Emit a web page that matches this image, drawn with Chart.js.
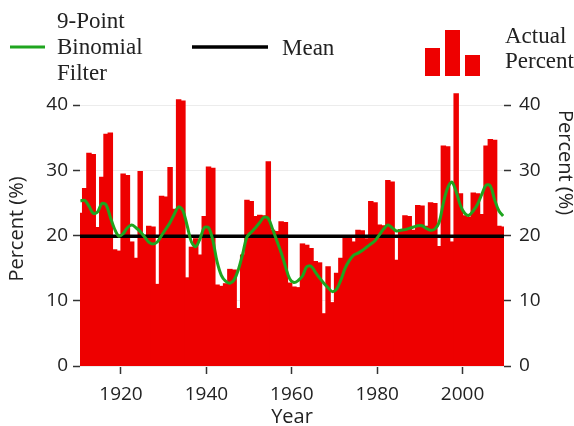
<!DOCTYPE html>
<html><head><meta charset="utf-8">
<script src="https://cdn.jsdelivr.net/npm/chart.js@4.4.0/dist/chart.umd.min.js"></script>
<style>html,body{margin:0;padding:0;background:#fff;}#wrap{position:relative;width:574px;height:426px;}</style>
</head><body><div id="wrap"><canvas id="c" width="574" height="426"></canvas></div>
<script>
const years = [1910,1911,1912,1913,1914,1915,1916,1917,1918,1919,
1920,1921,1922,1923,1924,1925,1926,1927,1928,1929,
1930,1931,1932,1933,1934,1935,1936,1937,1938,1939,
1940,1941,1942,1943,1944,1945,1946,1947,1948,1949,
1950,1951,1952,1953,1954,1955,1956,1957,1958,1959,
1960,1961,1962,1963,1964,1965,1966,1967,1968,1969,
1970,1971,1972,1973,1974,1975,1976,1977,1978,1979,
1980,1981,1982,1983,1984,1985,1986,1987,1988,1989,
1990,1991,1992,1993,1994,1995,1996,1997,1998,1999,
2000,2001,2002,2003,2004,2005,2006,2007,2008,2009];

const actualPercent = [23.4,27.2,32.6,32.4,21.2,28.9,35.5,35.7,17.8,17.6,
29.4,29.2,19.0,16.5,29.8,19.6,21.4,21.3,12.5,26.0,
25.9,30.4,24.0,40.8,40.6,13.5,18.2,19.5,17.0,22.9,
30.5,30.3,12.4,12.2,12.6,14.8,14.7,8.8,17.0,25.4,
25.2,22.9,23.1,23.0,31.3,20.8,20.6,22.1,22.0,12.7,
12.1,12.0,18.7,18.5,18.0,16.0,15.8,8.0,15.2,9.7,
14.2,16.5,19.8,19.7,19.0,20.8,20.7,19.5,25.2,25.0,
21.6,21.5,28.4,28.2,16.2,20.9,23.0,22.9,20.8,24.6,
24.5,21.4,25.0,24.9,18.3,33.7,33.6,19.0,41.7,26.4,
23.0,22.8,26.5,26.4,23.2,33.7,34.7,34.6,21.4,21.3];

const binomialFilter = [25.3,25.4,24.5,23.4,23.6,24.9,24.7,22.8,21.0,19.9,
20.3,21.2,21.6,21.2,20.6,19.8,19.0,18.7,19.0,20.0,
21.0,22.0,23.3,24.4,23.8,21.5,19.0,18.3,19.5,21.2,
21.2,19.3,16.0,13.9,13.0,12.7,13.2,14.8,17.2,19.8,
20.5,21.2,22.0,22.8,22.6,21.0,19.2,17.4,15.3,13.4,
12.8,13.1,13.8,15.2,15.3,14.4,13.5,12.7,12.0,11.4,
11.8,13.2,15.0,16.2,17.0,17.3,17.7,18.2,18.7,19.2,
20.1,21.0,21.6,21.2,20.7,20.8,20.9,21.1,21.3,21.5,
21.5,21.1,20.8,21.0,22.0,25.0,27.3,28.2,26.7,24.6,
23.4,23.1,23.8,24.8,26.3,27.7,27.6,25.5,23.8,23.0];

const meanPercent = 19.9;
const xTickLabels = [1920, 1940, 1960, 1980, 2000];
const yTickValues = [0, 10, 20, 30, 40];

const RED = '#ee0000', GREEN = '#1fa51f', INK = '#222222';
Chart.defaults.font.family = '"Open Sans", sans-serif';
Chart.defaults.color = INK;

const drawExtras = {
  id: 'drawExtras',
  afterDraw(chart) {
    const ctx = chart.ctx;
    ctx.save();
    ctx.lineCap = 'butt';
    ctx.strokeStyle = GREEN; ctx.lineWidth = 3;
    ctx.beginPath(); ctx.moveTo(10, 47); ctx.lineTo(45, 47); ctx.stroke();
    ctx.strokeStyle = '#000'; ctx.lineWidth = 3.5;
    ctx.beginPath(); ctx.moveTo(192, 47); ctx.lineTo(268, 47); ctx.stroke();
    ctx.fillStyle = RED;
    ctx.fillRect(425, 48, 15, 28);
    ctx.fillRect(445, 30, 15, 46);
    ctx.fillRect(465, 55, 15, 21);
    ctx.fillStyle = INK;
    ctx.font = '23px "Liberation Serif"';
    ctx.textBaseline = 'middle'; ctx.textAlign = 'left';
    ctx.fillText('9-Point', 57, 22);
    ctx.fillText('Binomial', 57, 48);
    ctx.fillText('Filter', 57, 74);
    ctx.fillText('Mean', 282, 49);
    ctx.fillText('Actual', 505, 37);
    ctx.fillText('Percent', 505, 62);
    ctx.font = '20px "Open Sans"';
    ctx.translate(565, 110);
    ctx.rotate(Math.PI / 2);
    ctx.textBaseline = 'middle'; ctx.textAlign = 'left';
    ctx.fillText('Percent (%)', 0, 0);
    ctx.restore();
  }
};

const setYTicks = s => { s.ticks = yTickValues.map(v => ({ value: v })); };

new Chart(document.getElementById('c'), {
  type: 'bar',
  data: {
    datasets: [
      {
        type: 'bar', label: 'Actual Percent', order: 3,
        data: years.map((y, i) => ({ x: y + 0.5, y: actualPercent[i] })),
        backgroundColor: RED, borderWidth: 0, inflateAmount: 0.6,
        barPercentage: 1.0, categoryPercentage: 1.0, yAxisID: 'y'
      },
      {
        type: 'line', label: 'Mean', order: 2,
        data: [{ x: years[0], y: meanPercent }, { x: years[years.length - 1] + 1, y: meanPercent }],
        borderColor: '#000', borderWidth: 3.5, pointRadius: 0, yAxisID: 'y'
      },
      {
        type: 'line', label: '9-Point Binomial Filter', order: 1,
        data: years.map((y, i) => ({ x: y + 0.5, y: binomialFilter[i] })),
        borderColor: GREEN, borderWidth: 3, pointRadius: 0, tension: 0.35, yAxisID: 'y'
      }
    ]
  },
  options: {
    responsive: false, animation: false, devicePixelRatio: 1,
    layout: { padding: { top: 92, left: 0, right: 0, bottom: 0 } },
    plugins: { legend: { display: false }, tooltip: { enabled: false } },
    scales: {
      x: {
        type: 'linear', min: 1910.4, max: 2009.7, offset: false,
        afterBuildTicks: s => { s.ticks = xTickLabels.map(v => ({ value: v })); },
        afterFit: s => { s.height = 60; },
        ticks: { callback: v => String(v), font: { size: 19 }, padding: 9, maxRotation: 0, color: INK },
        grid: { offset: false, drawOnChartArea: false, tickLength: 8, tickColor: '#333', tickWidth: 1.5 },
        border: { display: false },
        title: { display: true, text: 'Year', font: { size: 20 }, padding: { top: 0, bottom: -3 }, color: INK }
      },
      y: {
        position: 'left', min: 0, max: 42,
        afterBuildTicks: setYTicks,
        afterFit: s => { s.width = 80; },
        ticks: { font: { size: 19 }, padding: 5, color: INK },
        grid: { color: '#ececec', tickColor: '#333', tickLength: 7, tickWidth: 1.5 },
        border: { display: false },
        title: { display: true, text: 'Percent (%)', font: { size: 20 }, padding: { top: 5 }, color: INK }
      },
      y2: {
        position: 'right', min: 0, max: 42,
        afterBuildTicks: setYTicks,
        afterFit: s => { s.width = 70; },
        ticks: { font: { size: 19 }, padding: 8, color: INK },
        grid: { drawOnChartArea: false, tickColor: '#333', tickLength: 7, tickWidth: 1.5 },
        border: { display: false }
      }
    }
  },
  plugins: [drawExtras]
});
</script>
</body></html>
